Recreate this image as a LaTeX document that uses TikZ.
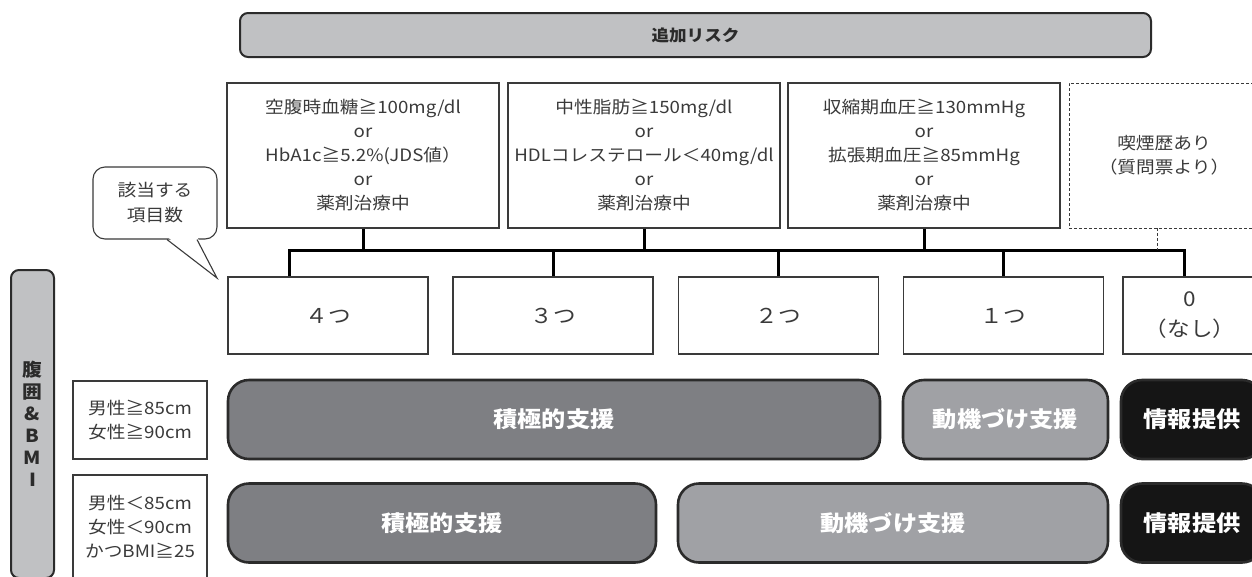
\documentclass[tikz,border=0pt]{standalone}
\usepackage{fontspec}
\setmainfont{Noto Sans CJK JP}[FakeStretch=1.1]
\usetikzlibrary{calc}
\definecolor{barGray}{HTML}{C0C1C3}
\definecolor{strongGray}{HTML}{7E7F83}
\definecolor{softGray}{HTML}{A0A1A5}
\definecolor{infoBlack}{HTML}{151515}
\definecolor{edgeGray}{HTML}{2B2B2B}
\definecolor{textGray}{HTML}{3A3A3A}

\begin{document}
\begin{tikzpicture}[x=1pt, y=-1pt,
  riskbox/.style={draw=textGray, line width=1.1pt, minimum width=272pt, minimum height=145pt, inner sep=0pt, align=center, text=textGray, font=\fontsize{17}{24}\selectfont},
  countbox/.style={draw=textGray, line width=1.1pt, minimum width=200pt, minimum height=77pt, inner sep=0pt, align=center, text=textGray, font=\fontsize{20.5}{30}\selectfont},
  condbox/.style={draw=textGray, line width=1.1pt, minimum width=134pt, inner sep=0pt, align=center, text=textGray, font=\fontsize{17}{24}\selectfont},
  pill/.style={draw=edgeGray, line width=2.6pt, rounded corners=21pt, minimum height=79pt, inner sep=0pt, text=white, font=\fontsize{22}{26}\selectfont\bfseries},
  tab/.style={draw=edgeGray, line width=2pt, rounded corners=8pt, fill=barGray, inner sep=0pt, text=edgeGray},
  bus/.style={line width=3pt}
]
\useasboundingbox (0,0) rectangle (1252,576);
\clip (0,0) rectangle (1252,576);

\node[tab, minimum width=911pt, minimum height=44pt, font=\fontsize{16}{16}\selectfont\bfseries] (risk) at (695.5,35) {追加リスク};

\node[riskbox] (glu) at (363,155.5) {空腹時血糖≧100mg/dl\\or\\HbA1c≧5.2\%(JDS値）\\or\\薬剤治療中};
\node[riskbox] (lip) at (644,155.5) {中性脂肪≧150mg/dl\\or\\HDLコレステロール＜40mg/dl\\or\\薬剤治療中};
\node[riskbox] (bp) at (924,155.5) {収縮期血圧≧130mmHg\\or\\拡張期血圧≧85mmHg\\or\\薬剤治療中};
\node[riskbox, line width=0.9pt, dash pattern=on 3pt off 2pt, minimum width=190pt] (smk) at (1164,155.5) {喫煙歴あり\\（質問票より）};

\node[countbox] (c4) at (328,315.5) {４つ};
\node[countbox] (c3) at (553,315.5) {３つ};
\node[countbox] (c2) at (778.5,315.5) {２つ};
\node[countbox] (c1) at (1003.5,315.5) {１つ};
\node[countbox, minimum width=134pt] (c0) at (1190,315.5) {0\\（なし）};

\coordinate (busL) at (289,250);
\coordinate (busR) at (1184,250);
\coordinate (smkfoot) at ([xshift=-7pt]smk.south);
\draw[bus] (busL |- c4.north) -- (busL) -- (busR) -- (busR |- c0.north);
\foreach \n in {glu,lip,bp}
  \draw[bus] (\n.south) -- (\n.south |- busL);
\foreach \n in {c3,c2,c1}
  \draw[bus] (\n.north) -- (\n.north |- busL);
\draw[textGray, line width=0.9pt, dash pattern=on 3pt off 2pt] (smkfoot) -- (smkfoot |- busR);

\node[draw=textGray, line width=1.1pt, rounded corners=12pt, minimum width=124pt, minimum height=72pt, inner sep=0pt, align=center, text=textGray, font=\fontsize{17}{25}\selectfont, fill=white] (hint) at (155,203) {該当する\\項目数};
\coordinate (tip) at (217,278);
\path (hint.south) ++(12,0) coordinate (hintA) ++(30,0) coordinate (hintB);
\fill[white] ($(hintA)+(0,-3)$) -- (tip) -- ($(hintB)+(0,-3)$) -- cycle;
\draw[textGray, line width=1.1pt] (hintA) -- (tip) -- (hintB);

\node[tab, minimum width=43pt, minimum height=308pt, align=center, font=\fontsize{18}{22}\selectfont\bfseries] (bmi) at (32.5,424) {腹\\囲\\\&\\B\\M\\I};
\node[condbox, minimum height=78pt] (waist) at (140,420) {男性≧85cm\\女性≧90cm};
\node[condbox, minimum height=104pt] (bmiset) at (140,527) {男性＜85cm\\女性＜90cm\\かつBMI≧25};

\node[pill, fill=strongGray, minimum width=652pt] (act1) at (554,419.5) {積極的支援};
\node[pill, fill=softGray, minimum width=205pt] (mot1) at (1005.5,419.5) {動機づけ支援};
\node[pill, fill=infoBlack, minimum width=142pt] (info1) at (1192,419.5) {情報提供};
\node[pill, fill=strongGray, minimum width=428pt] (act2) at (442,523) {積極的支援};
\node[pill, fill=softGray, minimum width=430pt] (mot2) at (893,523) {動機づけ支援};
\node[pill, fill=infoBlack, minimum width=142pt] (info2) at (1192,523) {情報提供};

\end{tikzpicture}
\end{document}
